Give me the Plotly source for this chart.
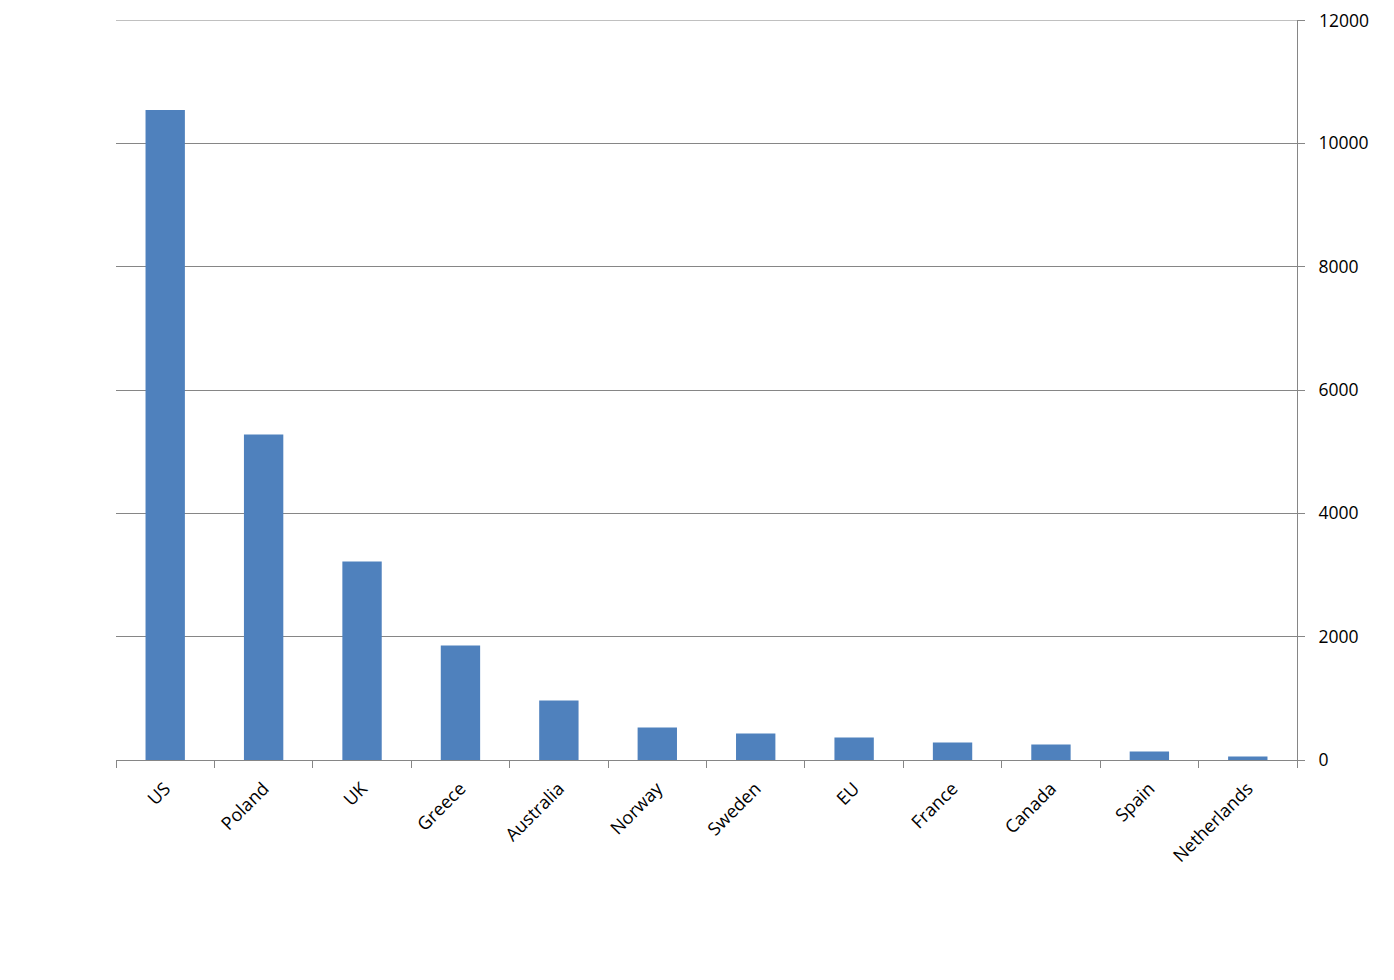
import plotly.graph_objects as go

countries = ["US", "Poland", "UK", "Greece", "Australia", "Norway", "Sweden",
             "EU", "France", "Canada", "Spain", "Netherlands"]
values = [10540, 5280, 3220, 1858, 966, 527, 430, 365, 284, 252, 138, 57]
y_ticks = [0, 2000, 4000, 6000, 8000, 10000, 12000]
y_tick_text = ["0", "2000", "4000", "6000", "8000", "10000", "12000"]

fig = go.Figure(go.Bar(x=countries, y=values, marker=dict(color="#4F81BD", line=dict(width=0))))

# page body has an 8px default margin, so compensate
fig.update_layout(
    width=1386, height=972,
    margin=dict(l=108, r=97, t=12, b=220, autoexpand=False),
    paper_bgcolor="white", plot_bgcolor="white",
    bargap=0.6,
    showlegend=False,
    font=dict(family="Open Sans, Noto Sans, sans-serif", size=17, color="#000000"),
    shapes=[dict(type="line", xref="paper", x0=0, x1=1, yref="y",
                 y0=y_ticks[-1], y1=y_ticks[-1],
                 line=dict(color="#868686", width=1), layer="below")],
    annotations=[dict(xref="paper", x=1, yref="y", y=y_ticks[-1],
                      text=y_tick_text[-1], showarrow=False,
                      xanchor="left", yanchor="middle", xshift=20,
                      font=dict(size=17.5, color="#000000"))],
)
fig.update_xaxes(
    showline=True, linecolor="#868686", linewidth=1,
    ticks="outside", ticklen=7, tickcolor="#868686", tickson="boundaries",
    tickangle=-45, showgrid=False, tickfont=dict(size=18),
    automargin=False, ticklabelstandoff=10,
)
fig.update_yaxes(
    side="right", range=[0, 12000.5], tickvals=y_ticks, ticktext=y_tick_text[:-1] + [""],
    showgrid=True, gridcolor="#868686", gridwidth=1,
    showline=True, linecolor="#868686", linewidth=1,
    ticks="outside", ticklen=7, tickcolor="#868686",
    zeroline=False, tickfont=dict(size=17.5),
    automargin=False, ticklabelstandoff=10,
)

fig.write_html("out.html")
